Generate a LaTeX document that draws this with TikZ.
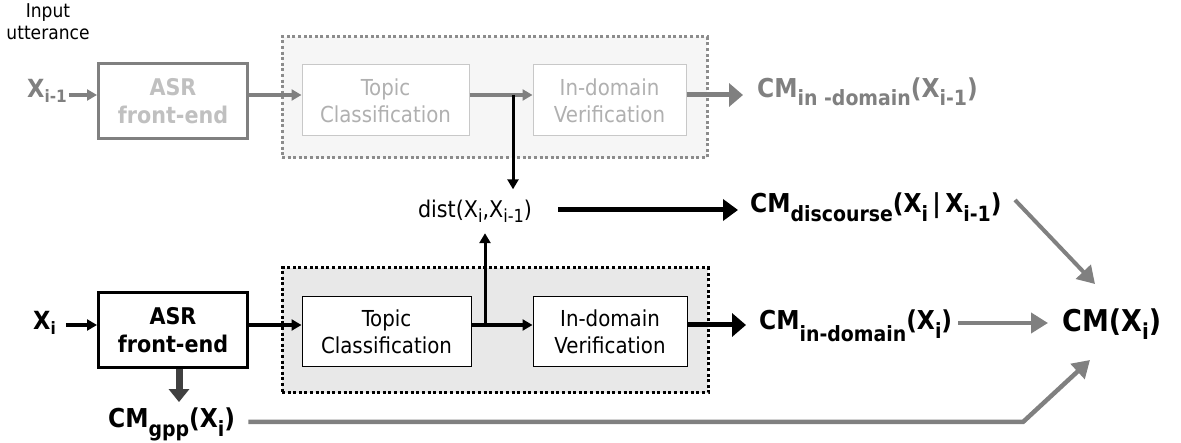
\documentclass[tikz,border=0pt]{standalone}
\usepackage{fontspec}
\IfFontExistsTF{DejaVu Sans Condensed}{\setmainfont{DejaVu Sans Condensed}}{\setmainfont{DejaVu Sans}[FakeStretch=0.9]}
\usetikzlibrary{arrows.meta,calc}

\definecolor{midgray}{HTML}{808080}
\definecolor{softgray}{HTML}{C0C0C0}
\definecolor{palegray}{HTML}{B0B0B0}
\definecolor{paleline}{HTML}{C8C8C8}
\definecolor{panelfillA}{HTML}{F6F6F6}
\definecolor{panelfillB}{HTML}{E8E8E8}
\definecolor{panellineA}{HTML}{8C8C8C}
\definecolor{deepgray}{HTML}{404040}

% font size helper and lowered subscript: \dn{drop}{size}{text}
\newcommand{\setfs}[1]{\fontsize{#1}{#1}\selectfont}
\newcommand{\dn}[3]{\raisebox{-#1pt}{\setfs{#2}#3}}

\tikzset{
  panel/.style={line width=3pt, dash pattern=on 3pt off 2.6pt, inner sep=0pt},
  asrbox/.style={draw, line width=3pt, minimum width=149pt, minimum height=75pt,
    inner sep=0pt, align=center, font=\fontsize{23}{28}\selectfont\bfseries},
  stagebox/.style={draw, line width=1pt, fill=white, minimum height=70pt,
    inner sep=0pt, align=center, font=\fontsize{22}{27}\selectfont},
  lbl/.style={inner sep=0pt, anchor=base west},
  thinarr/.style={line width=3.3pt, -{Triangle[length=10pt,width=11pt]}},
  bigarr/.style={line width=5pt, -{Triangle[length=14pt,width=23pt]}},
  grayarr/.style={line width=4pt, draw=midgray, -{Triangle[length=17pt,width=20pt]}, color=midgray},
}

\begin{document}
\begin{tikzpicture}[x=1pt,y=-1pt]
\useasboundingbox (0,0) rectangle (1181,443);

\coordinate (rowA) at (0,95);
\coordinate (rowB) at (0,325);
\coordinate (rowD) at (0,210);
\coordinate (rowC) at (0,323);
\coordinate (rowG) at (0,422);

% ---- grouping panels ----
\node[panel, draw=panellineA, fill=panelfillA, minimum width=425pt, minimum height=121pt] (panelA) at (494.5,97.5) {};
\node[panel, draw=black, fill=panelfillB, minimum width=426pt, minimum height=125pt] (panelB) at (495,330.5) {};

% ---- previous utterance (faded) ----
\node[inner sep=0pt, align=center, font=\fontsize{19}{22}\selectfont, anchor=base] (inlbl) at (48,40) {Input\\utterance};
\node[lbl, text=midgray, font=\setfs{25}\bfseries] (xprev) at (27,98) {X\dn{5}{17}{i-1}};
\node[asrbox, draw=midgray, text=softgray] (asrA) at (173,101) {ASR\\front-end};
\node[stagebox, draw=paleline, text=palegray, minimum width=167pt, minimum height=71pt] (topicA) at (385.5,100.5) {Topic\\Classification};
\node[stagebox, draw=paleline, text=palegray, minimum width=153pt, minimum height=71pt] (verA) at (609.5,100.5) {In-domain\\Verification};
\node[lbl, text=midgray, font=\setfs{26}\bfseries] (cmdomA) at (757,98) {CM\dn{8}{21}{in -domain}(X\dn{8}{21}{i-1})};

\draw[thinarr, midgray] ([xshift=2pt]xprev.east |- rowA) -- (asrA.west |- rowA);
\draw[thinarr, midgray] (asrA.east |- rowA) -- (topicA.west |- rowA);
\draw[thinarr, midgray] (topicA.east |- rowA) -- (verA.west |- rowA);
\draw[bigarr, midgray, shorten >=14pt] (verA.east |- rowA) -- (cmdomA.west |- rowA);

% ---- discourse distance ----
\node[lbl, anchor=base, font=\setfs{23}] (distn) at (475,218) {dist(X\dn{5}{18}{i},X\dn{5}{18}{i-1})};
\node[lbl, font=\setfs{26}\bfseries] (cmdisc) at (750,213) {CM\dn{9}{21}{discourse}(X\dn{9}{21}{i}\,|\,X\dn{9}{21}{i-1})};

\coordinate (jA) at (513,95);
\draw[line width=3pt, -{Triangle[length=10pt,width=11pt]}, shorten >=11pt] (jA) -- (jA |- distn.north);
\draw[bigarr, -{Triangle[length=15pt,width=21pt]}, shorten <=26pt, shorten >=12pt] (distn.east |- rowD) -- (cmdisc.west |- rowD);

% ---- current utterance ----
\node[lbl, font=\setfs{25}\bfseries] (xcur) at (33,330) {X\dn{5}{17}{i}};
\node[asrbox, draw=black] (asrB) at (173,330.5) {ASR\\front-end};
\node[stagebox, draw=black, minimum width=169pt] (topicB) at (386.5,332) {Topic\\Classification};
\node[stagebox, draw=black, minimum width=154pt] (verB) at (610,332) {In-domain\\Verification};
\node[lbl, font=\setfs{26}\bfseries] (cmdomB) at (759,330) {CM\dn{12}{21}{in-domain}(X\dn{9}{21}{i})};
\node[lbl, font=\setfs{30}\bfseries] (cmx) at (1062,332) {CM(X\dn{8}{22}{i})};
\node[lbl, font=\setfs{26}\bfseries] (gpp) at (108,428) {CM\dn{9}{21}{gpp}(X\dn{9}{21}{i})};

\draw[thinarr, shorten <=10pt] (xcur.east |- rowB) -- (asrB.west |- rowB);
\draw[thinarr] (asrB.east |- rowB) -- (topicB.west |- rowB);
\draw[thinarr] (topicB.east |- rowB) -- (verB.west |- rowB);
\draw[bigarr, shorten >=13pt] (verB.east |- rowB) -- (cmdomB.west |- rowB);

\coordinate (jB) at (485,325);
\draw[line width=3pt, -{Triangle[length=10pt,width=11pt]}, shorten >=10pt] (jB) -- (jB |- distn.south);

\coordinate (dnX) at (179,0);
\draw[line width=7pt, deepgray, -{Triangle[length=13pt,width=20pt]}, shorten >=6pt] (asrB.south -| dnX) -- (gpp.north -| dnX);

% ---- combination ----
\draw[grayarr, shorten <=6pt, shorten >=14pt] (cmdomB.east |- rowC) -- (cmx.west |- rowC);
\coordinate (dgA) at (1015,200);
\coordinate (dgB) at (1095,284);
\draw[grayarr] (dgA) -- (dgB);
\coordinate (gpBend) at (1023,422);
\coordinate (gpEnd) at (1090,360);
\draw[grayarr, line width=4.5pt, shorten <=13pt] (gpp.east |- rowG) -- (gpBend) -- (gpEnd);
\end{tikzpicture}
\end{document}
